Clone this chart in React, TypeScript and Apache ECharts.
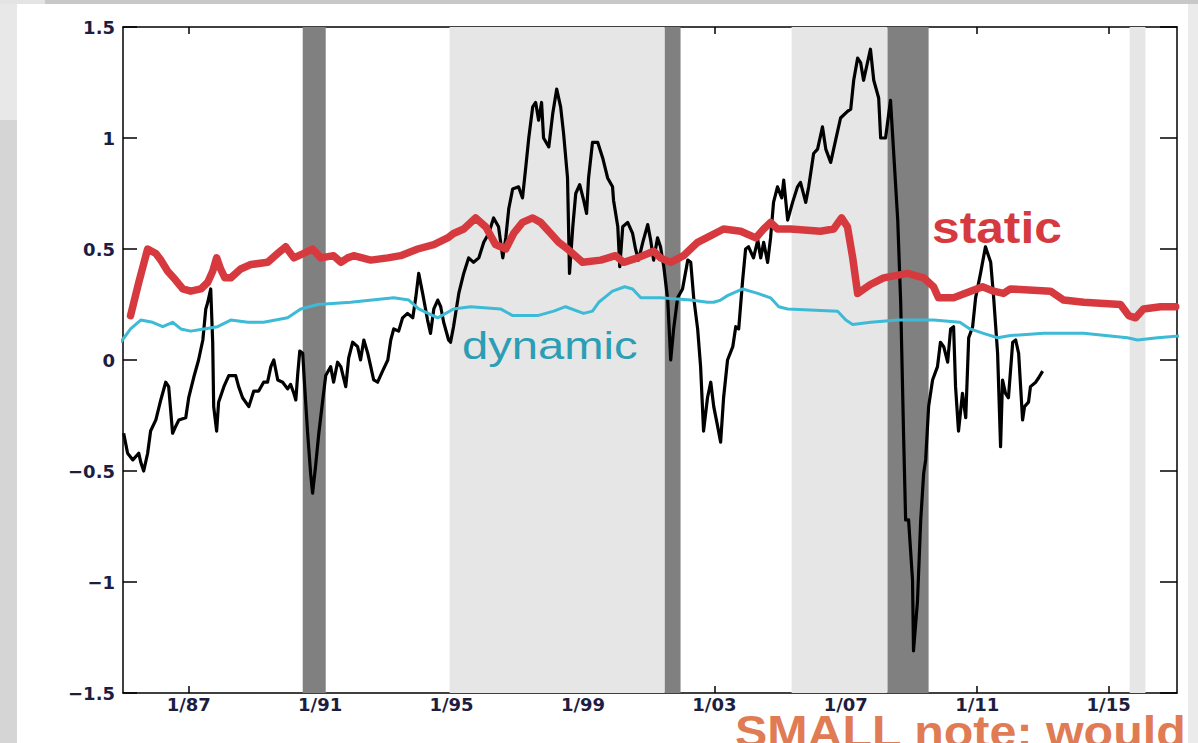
import React, { useEffect, useRef } from "react";
import * as echarts from "echarts";

// x ticks (years, January)
const X_TICKS = [1987, 1991, 1995, 1999, 2003, 2007, 2011, 2015];
const X_MIN = 1985.0;
const X_MAX = 2017.08;
const Y_MIN = -1.5;
const Y_MAX = 1.5;
const Y_STEP = 0.5;

// shaded periods [start, end]
const DARK_BANDS: [number, number][] = [
  [1990.47, 1991.17],
  [2001.49, 2001.97],
  [2008.27, 2009.52],
];
const LIGHT_BANDS: [number, number][] = [
  [1994.94, 2001.49],
  [2005.35, 2008.27],
  [2015.64, 2016.12],
];

// black series [year, value]
const BLACK: [number, number][] = [
  [1985.02, -0.33], [1985.14, -0.42], [1985.3, -0.45], [1985.48, -0.42], [1985.54, -0.46],
  [1985.63, -0.5], [1985.75, -0.42], [1985.84, -0.32], [1986.0, -0.27], [1986.15, -0.18],
  [1986.3, -0.1], [1986.39, -0.12], [1986.51, -0.33], [1986.6, -0.3], [1986.7, -0.27],
  [1986.91, -0.26], [1987.0, -0.17], [1987.15, -0.08], [1987.3, 0.0], [1987.43, 0.09],
  [1987.52, 0.23], [1987.58, 0.26], [1987.67, 0.32], [1987.73, 0.08], [1987.76, -0.21],
  [1987.85, -0.32], [1987.91, -0.19], [1988.07, -0.12], [1988.22, -0.07], [1988.43, -0.07],
  [1988.52, -0.12], [1988.64, -0.17], [1988.83, -0.21], [1988.98, -0.14], [1989.13, -0.14],
  [1989.28, -0.1], [1989.4, -0.1], [1989.5, -0.03], [1989.59, 0.0], [1989.71, -0.09],
  [1989.86, -0.1], [1990.01, -0.13], [1990.1, -0.11], [1990.2, -0.15], [1990.26, -0.18],
  [1990.32, -0.06], [1990.38, 0.04], [1990.47, 0.03], [1990.53, -0.12], [1990.62, -0.33],
  [1990.71, -0.51], [1990.77, -0.6], [1990.86, -0.48], [1990.96, -0.33], [1991.08, -0.18],
  [1991.17, -0.07], [1991.32, -0.03], [1991.41, -0.1], [1991.53, -0.01], [1991.63, -0.03],
  [1991.78, -0.12], [1991.87, 0.01], [1991.99, 0.08], [1992.14, 0.06], [1992.23, 0.0],
  [1992.33, 0.09], [1992.45, 0.03], [1992.54, -0.03], [1992.63, -0.09], [1992.75, -0.1],
  [1992.9, -0.05], [1993.06, 0.0], [1993.15, 0.09], [1993.24, 0.14], [1993.39, 0.13],
  [1993.51, 0.19], [1993.66, 0.21], [1993.82, 0.19], [1993.91, 0.28], [1994.0, 0.39],
  [1994.12, 0.3], [1994.27, 0.18], [1994.36, 0.12], [1994.46, 0.23], [1994.58, 0.27],
  [1994.67, 0.24], [1994.76, 0.17], [1994.91, 0.09], [1994.97, 0.08], [1995.06, 0.15],
  [1995.22, 0.3], [1995.37, 0.39], [1995.52, 0.46], [1995.67, 0.44], [1995.83, 0.46],
  [1995.98, 0.53], [1996.13, 0.57], [1996.28, 0.64], [1996.43, 0.6], [1996.56, 0.46],
  [1996.65, 0.55], [1996.74, 0.68], [1996.86, 0.77], [1997.04, 0.78], [1997.16, 0.73],
  [1997.26, 0.87], [1997.35, 1.0], [1997.47, 1.14], [1997.56, 1.16], [1997.65, 1.08],
  [1997.74, 1.16], [1997.8, 1.0], [1997.96, 0.96], [1998.08, 1.11], [1998.2, 1.22],
  [1998.32, 1.14], [1998.41, 1.02], [1998.53, 0.82], [1998.59, 0.39], [1998.69, 0.6],
  [1998.78, 0.75], [1998.9, 0.79], [1999.02, 0.72], [1999.11, 0.66], [1999.17, 0.82],
  [1999.29, 0.98], [1999.45, 0.98], [1999.6, 0.91], [1999.75, 0.82], [1999.9, 0.78],
  [1999.93, 0.72], [2000.06, 0.6], [2000.12, 0.42], [2000.21, 0.6], [2000.36, 0.62],
  [2000.51, 0.57], [2000.6, 0.5], [2000.69, 0.45], [2000.82, 0.53], [2000.97, 0.61],
  [2001.06, 0.54], [2001.15, 0.45], [2001.27, 0.55], [2001.36, 0.51], [2001.46, 0.42],
  [2001.58, 0.27], [2001.67, 0.0], [2001.76, 0.14], [2001.88, 0.28], [2002.03, 0.32],
  [2002.19, 0.45], [2002.28, 0.44], [2002.37, 0.28], [2002.49, 0.14], [2002.58, -0.03],
  [2002.67, -0.32], [2002.79, -0.17], [2002.89, -0.1], [2002.98, -0.21], [2003.1, -0.3],
  [2003.19, -0.37], [2003.28, -0.17], [2003.4, 0.0], [2003.56, 0.06], [2003.65, 0.15],
  [2003.74, 0.14], [2003.86, 0.36], [2003.95, 0.5], [2004.04, 0.51], [2004.19, 0.46],
  [2004.32, 0.54], [2004.41, 0.46], [2004.5, 0.53], [2004.62, 0.44], [2004.71, 0.55],
  [2004.8, 0.71], [2004.92, 0.78], [2005.05, 0.73], [2005.11, 0.81], [2005.23, 0.63],
  [2005.38, 0.71], [2005.53, 0.78], [2005.62, 0.8], [2005.78, 0.71], [2005.87, 0.78],
  [2006.02, 0.93], [2006.14, 0.95], [2006.29, 1.05], [2006.39, 0.95], [2006.54, 0.89],
  [2006.69, 0.99], [2006.84, 1.09], [2007.05, 1.12], [2007.15, 1.13], [2007.24, 1.26],
  [2007.36, 1.36], [2007.45, 1.34], [2007.54, 1.26], [2007.66, 1.34], [2007.75, 1.4],
  [2007.85, 1.26], [2008.0, 1.18], [2008.06, 1.0], [2008.21, 1.0], [2008.36, 1.17],
  [2008.45, 0.95], [2008.58, 0.63], [2008.67, 0.26], [2008.76, -0.35], [2008.82, -0.72],
  [2008.91, -0.72], [2009.03, -0.99], [2009.06, -1.31], [2009.18, -1.09], [2009.28, -0.72],
  [2009.37, -0.51], [2009.43, -0.45], [2009.52, -0.21], [2009.64, -0.09], [2009.79, -0.03],
  [2009.88, 0.08], [2009.98, 0.06], [2010.1, -0.01], [2010.19, 0.14], [2010.28, 0.15],
  [2010.34, -0.12], [2010.43, -0.32], [2010.55, -0.15], [2010.65, -0.26], [2010.74, 0.1],
  [2010.86, 0.15], [2010.95, 0.28], [2011.1, 0.39], [2011.25, 0.51], [2011.41, 0.44],
  [2011.5, 0.28], [2011.62, 0.03], [2011.71, -0.39], [2011.77, -0.09], [2011.86, -0.15],
  [2011.95, -0.17], [2012.08, 0.08], [2012.17, 0.09], [2012.26, 0.03], [2012.38, -0.27],
  [2012.44, -0.21], [2012.56, -0.19], [2012.62, -0.12], [2012.78, -0.1], [2012.87, -0.08],
  [2012.99, -0.05],
];

// "static" series [year, value]
const STATIC: [number, number][] = [
  [1985.23, 0.2], [1985.48, 0.35], [1985.75, 0.5], [1986.0, 0.48], [1986.15, 0.45],
  [1986.36, 0.4], [1986.6, 0.36], [1986.82, 0.32], [1987.06, 0.31], [1987.37, 0.32],
  [1987.58, 0.35], [1987.73, 0.4], [1987.85, 0.46], [1987.97, 0.41], [1988.1, 0.37],
  [1988.28, 0.37], [1988.58, 0.41], [1988.89, 0.43], [1989.4, 0.44], [1989.71, 0.48],
  [1989.95, 0.51], [1990.2, 0.46], [1990.5, 0.48], [1990.77, 0.5], [1991.02, 0.46],
  [1991.41, 0.47], [1991.63, 0.44], [1991.84, 0.46], [1992.02, 0.47], [1992.54, 0.45],
  [1993.06, 0.46], [1993.45, 0.47], [1993.97, 0.5], [1994.46, 0.52], [1994.88, 0.55],
  [1995.06, 0.57], [1995.37, 0.59], [1995.73, 0.64], [1996.04, 0.6], [1996.34, 0.52],
  [1996.65, 0.5], [1996.89, 0.57], [1997.16, 0.62], [1997.47, 0.64], [1997.71, 0.62],
  [1998.02, 0.57], [1998.26, 0.53], [1998.53, 0.5], [1998.99, 0.44], [1999.54, 0.45],
  [1999.99, 0.47], [2000.24, 0.44], [2000.66, 0.46], [2001.15, 0.49], [2001.36, 0.46],
  [2001.67, 0.44], [2002.06, 0.47], [2002.49, 0.53], [2002.89, 0.56], [2003.28, 0.59],
  [2003.8, 0.58], [2004.26, 0.55], [2004.5, 0.59], [2004.71, 0.62], [2004.92, 0.59],
  [2005.32, 0.59], [2006.23, 0.58], [2006.63, 0.59], [2006.87, 0.64], [2007.05, 0.6],
  [2007.21, 0.46], [2007.36, 0.3], [2007.75, 0.34], [2008.15, 0.37], [2008.88, 0.39],
  [2009.37, 0.37], [2009.67, 0.33], [2009.82, 0.28], [2010.28, 0.28], [2011.16, 0.33],
  [2011.5, 0.31], [2011.8, 0.3], [2012.01, 0.32], [2013.23, 0.31], [2013.63, 0.27],
  [2014.24, 0.26], [2015.36, 0.25], [2015.61, 0.2], [2015.82, 0.19], [2016.06, 0.23],
  [2016.58, 0.24], [2017.04, 0.24],
];

// "dynamic" series [year, value]
const DYNAMIC: [number, number][] = [
  [1984.93, 0.08], [1985.23, 0.14], [1985.54, 0.18], [1985.9, 0.17], [1986.21, 0.15],
  [1986.51, 0.17], [1986.76, 0.14], [1987.06, 0.13], [1987.46, 0.14], [1987.88, 0.15],
  [1988.28, 0.18], [1988.8, 0.17], [1989.28, 0.17], [1990.01, 0.19], [1990.41, 0.23],
  [1990.93, 0.25], [1991.93, 0.26], [1993.24, 0.28], [1993.7, 0.27], [1994.0, 0.23],
  [1994.58, 0.19], [1995.06, 0.23], [1995.58, 0.24], [1996.49, 0.23], [1996.86, 0.2],
  [1997.62, 0.2], [1998.11, 0.22], [1998.47, 0.24], [1999.02, 0.21], [1999.29, 0.22],
  [1999.48, 0.26], [1999.9, 0.31], [2000.27, 0.33], [2000.51, 0.32], [2000.76, 0.28],
  [2001.36, 0.28], [2002.28, 0.27], [2002.79, 0.26], [2002.98, 0.26], [2003.19, 0.27],
  [2003.4, 0.29], [2003.86, 0.32], [2004.32, 0.3], [2004.71, 0.28], [2004.96, 0.24],
  [2005.23, 0.23], [2006.75, 0.22], [2007.0, 0.18], [2007.21, 0.16], [2007.76, 0.17],
  [2008.58, 0.18], [2009.67, 0.18], [2010.47, 0.17], [2010.78, 0.14], [2011.19, 0.12],
  [2011.62, 0.1], [2012.01, 0.11], [2013.02, 0.12], [2014.24, 0.12], [2015.57, 0.1],
  [2015.88, 0.09], [2016.49, 0.1], [2017.28, 0.11],
];

const LABEL_COLOR = "#1d1d3f";
const LABEL_FONT = "DejaVu Sans";

function App() {
  const ref = useRef<HTMLDivElement>(null);

  useEffect(() => {
    if (!ref.current) return;
    const chart = echarts.init(ref.current, undefined, { renderer: "svg" });

    const bandData = [
      ...LIGHT_BANDS.map((b) => [b[0], b[1], 0]),
      ...DARK_BANDS.map((b) => [b[0], b[1], 1]),
    ];

    const axisLine = { show: true, onZero: false, lineStyle: { color: "#000", width: 1.5 } };
    const minus = (v: number) => String(v).replace("-", "\u2212");

    chart.setOption({
      animation: false,
      backgroundColor: "transparent",
      grid: { left: 123, right: 21, top: 27, bottom: 50, containLabel: false },
      xAxis: [
        {
          type: "value",
          position: "bottom",
          min: X_MIN,
          max: X_MAX,
          axisLine,
          splitLine: { show: false },
          axisTick: {
            show: true,
            inside: true,
            length: 7,
            customValues: X_TICKS,
            lineStyle: { color: "#000", width: 1.5 },
          },
          axisLabel: {
            show: true,
            customValues: X_TICKS,
            margin: 2,
            color: LABEL_COLOR,
            fontFamily: LABEL_FONT,
            fontWeight: "bold",
            fontSize: 18,
            formatter: (v: number) => "1/" + String(Math.round(v) % 100).padStart(2, "0"),
          },
          z: 0,
        },
        {
          type: "value",
          position: "top",
          min: X_MIN,
          max: X_MAX,
          axisLine,
          splitLine: { show: false },
          axisTick: {
            show: true,
            inside: true,
            length: 7,
            customValues: X_TICKS,
            lineStyle: { color: "#000", width: 1.5 },
          },
          axisLabel: { show: false },
          z: 0,
        },
      ],
      yAxis: [
        {
          type: "value",
          position: "left",
          min: Y_MIN,
          max: Y_MAX,
          interval: Y_STEP,
          axisLine,
          splitLine: { show: false },
          axisTick: { show: true, inside: true, length: 14, lineStyle: { color: "#000", width: 1.5 } },
          axisLabel: {
            show: true,
            margin: 8,
            color: LABEL_COLOR,
            fontFamily: LABEL_FONT,
            fontWeight: "bold",
            fontSize: 18,
            formatter: minus,
          },
          z: 0,
        },
        {
          type: "value",
          position: "right",
          min: Y_MIN,
          max: Y_MAX,
          interval: Y_STEP,
          axisLine,
          splitLine: { show: false },
          axisTick: { show: true, inside: true, length: 17, lineStyle: { color: "#000", width: 1.5 } },
          axisLabel: { show: false },
          z: 0,
        },
      ],
      series: [
        {
          type: "custom",
          xAxisIndex: 0,
          yAxisIndex: 0,
          z: 1,
          silent: true,
          data: bandData,
          encode: { x: [0, 1], y: 2 },
          renderItem: (params: any, api: any) => {
            const s = api.coord([api.value(0), 0])[0];
            const e = api.coord([api.value(1), 0])[0];
            const cs = params.coordSys;
            return {
              type: "rect",
              shape: { x: s, y: cs.y, width: e - s, height: cs.height },
              style: { fill: api.value(2) === 1 ? "#808080" : "#e6e6e6" },
            };
          },
        },
        {
          type: "line",
          name: "black",
          data: BLACK,
          showSymbol: false,
          z: 3,
          lineStyle: { color: "#000", width: 3.2, join: "round" },
        },
        {
          type: "line",
          name: "dynamic",
          data: DYNAMIC,
          showSymbol: false,
          clip: false,
          z: 4,
          lineStyle: { color: "#3dbad5", width: 3, join: "round" },
        },
        {
          type: "line",
          name: "static",
          data: STATIC,
          showSymbol: false,
          z: 5,
          lineStyle: { color: "#d63a3f", width: 7.5, join: "round", cap: "round" },
        },
      ],
      graphic: [
        {
          type: "text",
          x: 932,
          y: 228,
          scaleX: 1.13,
          z: 10,
          style: {
            text: "static",
            fill: "#d63a3f",
            font: "bold 44px 'Liberation Sans', Arial, sans-serif",
            textAlign: "left",
            textVerticalAlign: "middle",
          },
        },
        {
          type: "text",
          x: 462,
          y: 345,
          scaleX: 1.21,
          z: 10,
          style: {
            text: "dynamic",
            fill: "#2b9db4",
            font: "39px 'Liberation Sans', Arial, sans-serif",
            textAlign: "left",
            textVerticalAlign: "middle",
          },
        },
        {
          type: "text",
          x: 735,
          y: 732,
          scaleX: 1.1,
          z: 10,
          style: {
            text: "SMALL note: would",
            fill: "#e07b53",
            font: "bold 44px 'Liberation Sans', Arial, sans-serif",
            textAlign: "left",
            textVerticalAlign: "middle",
          },
        },
      ],
    });

    return () => chart.dispose();
  }, []);

  const strip = (s: React.CSSProperties) => (
    <div style={{ position: "absolute", ...s }} />
  );

  return (
    <div
      style={{
        position: "fixed",
        left: 0,
        top: 0,
        width: 1198,
        height: 743,
        background: "#ffffff",
        overflow: "hidden",
      }}
    >
      {strip({ left: 0, top: 0, width: 1198, height: 4, background: "#c8c8c8" })}
      {strip({ left: 0, top: 0, width: 17, height: 743, background: "#d5d5d5" })}
      {strip({ left: 0, top: 0, width: 17, height: 120, background: "#e8e8e8" })}
      {strip({ left: 0, top: 0, width: 45, height: 4, background: "#e4e4e4" })}
      {strip({ left: 1188, top: 4, width: 10, height: 739, background: "#ebebeb" })}
      <div ref={ref} style={{ position: "absolute", left: 0, top: 0, width: 1198, height: 743 }} />
    </div>
  );
}

export default App;
